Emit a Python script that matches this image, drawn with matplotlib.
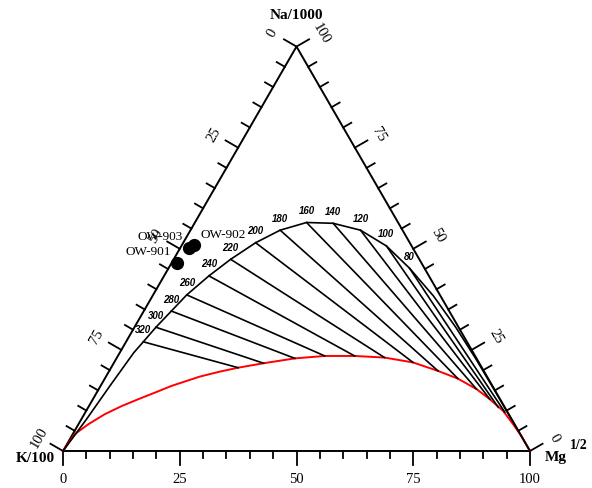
import numpy as np
import matplotlib
matplotlib.use("Agg")
import matplotlib.pyplot as plt

plt.rcParams['font.family'] = ['Liberation Serif', 'DejaVu Serif']

# Giggenbach Na-K-Mg diagram, all values as % of (Na/1000 + K/100 + Mg^1/2)
# full equilibrium points with their temperature labels
temps = [80, 100, 120, 140, 160, 180, 200, 220, 240, 260, 280, 300, 320]
eq_na = [45.2, 50.7, 54.6, 56.3, 56.5, 54.6, 51.5, 47.4, 43.3, 38.6, 34.6, 30.6, 27.0]
eq_mg = [51.6, 43.9, 36.4, 29.7, 23.9, 19.2, 15.5, 12.2, 9.6, 7.2, 5.9, 4.6, 3.7]

# where each tie line stops on the immature-water curve
tie_na = [9.6, 10.8, 12.8, 15.3, 17.9, 19.8, 21.9, 23.1, 23.5, 23.5, 22.9, 21.7, 20.6]
tie_mg = [89.8, 87.8, 85.0, 80.9, 75.6, 70.4, 64.0, 57.3, 50.7, 44.3, 38.2, 32.1, 27.2]

# full equilibrium curve, K corner -> Mg corner
curve_na = [0.0, 7.8, 16.1, 24.3, 27.0, 30.6, 34.6, 38.6, 43.3, 47.4, 51.5, 54.6,
            56.5, 56.3, 54.6, 50.7, 45.2, 38.3, 30.6, 22.7, 15.6, 0.0]
curve_mg = [0.0, 1.1, 2.0, 3.0, 3.7, 4.6, 5.9, 7.2, 9.6, 12.2, 15.5, 19.2,
            23.9, 29.7, 36.4, 43.9, 51.6, 60.2, 68.8, 77.1, 84.3, 100.0]

# immature waters boundary (red)
immature_na = [0.0, 4.1, 6.6, 9.1, 11.1, 12.8, 14.4, 16.1, 18.4, 19.6, 20.6, 21.7, 22.9,
               23.5, 23.5, 23.1, 21.9, 19.8, 17.9, 15.3, 12.8, 9.9, 6.6, 3.7, 0.0]
immature_mg = [0.0, 0.4, 2.1, 4.4, 7.0, 9.7, 12.4, 15.2, 20.1, 23.7, 27.2, 32.1, 38.2,
               44.3, 50.7, 57.3, 64.0, 70.4, 75.6, 80.9, 85.0, 89.3, 93.1, 96.3, 100.0]

samples = ["OW-901", "OW-902", "OW-903"]
sample_na = [46.5, 50.9, 50.3]
sample_mg = [1.2, 2.7, 1.8]


def tern(na, mg):
    na = np.asarray(na, float)
    mg = np.asarray(mg, float)
    return mg + na / 2.0, na * np.sqrt(3) / 2.0


fig = plt.figure(figsize=(5.92, 4.89), dpi=100)
ax = fig.add_axes([0, 0, 1, 1])
ax.axis('off')
s = 4.67  # px per unit
ax.set_xlim(-63 / s, (592 - 63) / s)
ax.set_ylim(-(489 - 452) / s, 452 / s)

K = np.array([0.0, 0.0])
M = np.array([100.0, 0.0])
N = np.array([50.0, 50 * np.sqrt(3)])

# triangle
tri = np.array([K, M, N, K])
ax.plot(tri[:, 0], tri[:, 1], color='k', lw=1.4, solid_joinstyle='miter')

c30 = np.sqrt(3) / 2
axes_def = [
    # start, end, outward normal, label rotation, label offset, minor tick
    (K, M, np.array([0.0, -1.0]), 0, 5.8, 1.6),     # Mg along bottom
    (N, K, np.array([-c30, 0.5]), 60, 6.0, 2.0),    # K along left
    (M, N, np.array([c30, 0.5]), -60, 6.0, 2.0),    # Na along right
]
for start, end, nrm, rot, off, minor in axes_def:
    for v in range(0, 101, 5):
        p = start + v / 100.0 * (end - start)
        ln = 3.1 if v % 25 == 0 else minor
        q = p + ln * nrm
        ax.plot([p[0], q[0]], [p[1], q[1]], color='k', lw=1.3)
        if v % 25 == 0:
            t = p + off * nrm
            ax.text(t[0], t[1], str(v), rotation=rot, ha='center', va='center',
                    fontsize=10.5)

# red immature line
rx, ry = tern(immature_na, immature_mg)
ax.plot(rx, ry, color='red', lw=1.4)

# full equilibrium curve
cx, cy = tern(curve_na, curve_mg)
ax.plot(cx, cy, color='k', lw=1.2)

# tie lines
ex, ey = tern(eq_na, eq_mg)
tx, ty = tern(tie_na, tie_mg)
for i in range(len(temps)):
    ax.plot([ex[i], tx[i]], [ey[i], ty[i]], color='k', lw=1.2)
    ax.annotate(str(temps[i]), (ex[i], ey[i]), xytext=(0, 9), textcoords='offset points',
                ha='center', va='center', fontsize=7, fontstyle='italic',
                fontweight='bold', family='Liberation Sans')

# samples
sx, sy = tern(sample_na, sample_mg)
ax.plot(sx, sy, 'o', color='k', ms=8.5)
lab_off = {"OW-901": (-4.2, 8.5, 'right'), "OW-902": (4.2, 8.3, 'left'),
           "OW-903": (-4.2, 8.4, 'right')}
for i, name in enumerate(samples):
    dx, dy, ha = lab_off[name]
    ax.annotate(name, (sx[i], sy[i]), xytext=(dx, dy), textcoords='offset points',
                ha=ha, va='center', fontsize=9.5)

# corner titles
ax.text(49.9, 93.5, "Na/1000", ha='center', va='center', fontsize=11, fontweight='bold')
ax.text(-1.8, -1.4, "K/100", ha='right', va='center', fontsize=11, fontweight='bold')
ax.text(103.1, -1.2, "Mg", ha='left', va='center', fontsize=11, fontweight='bold')
ax.text(108.6, 1.3, "1/2", ha='left', va='center', fontsize=10, fontweight='bold')

fig.savefig("out.png", dpi=100)
